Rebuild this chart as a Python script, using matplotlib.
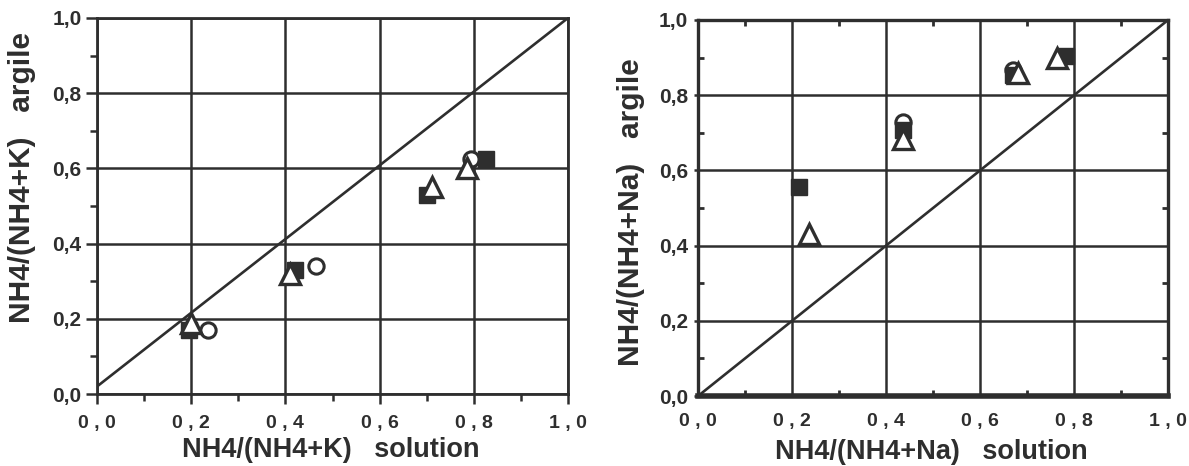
import matplotlib
matplotlib.use("Agg")
import matplotlib.pyplot as plt
from matplotlib.ticker import MultipleLocator, FixedLocator

plt.rcParams['font.family'] = ['Liberation Sans', 'DejaVu Sans']
plt.rcParams['font.weight'] = 'bold'

INK = '#2e2e2e'

# --- data ---
# left panel : NH4/(NH4+K)
k_sq_x = [0.195, 0.42, 0.70, 0.825]
k_sq_y = [0.17, 0.33, 0.53, 0.625]
k_tri_x = [0.20, 0.41, 0.712, 0.785]
k_tri_y = [0.19, 0.32, 0.55, 0.60]
k_circ_x = [0.235, 0.465, 0.795]
k_circ_y = [0.17, 0.34, 0.625]
k_line_x = [0.0, 1.0]
k_line_y = [0.02, 1.0]

# right panel : NH4/(NH4+Na)
na_sq_x = [0.215, 0.435, 0.671, 0.783]
na_sq_y = [0.555, 0.707, 0.854, 0.905]
na_tri_x = [0.235, 0.437, 0.681, 0.764]
na_tri_y = [0.43, 0.684, 0.859, 0.90]
na_circ_x = [0.435, 0.671]
na_circ_y = [0.729, 0.867]
na_line_x = [0.0, 1.0]
na_line_y = [0.0, 1.0]

major = [0.0, 0.2, 0.4, 0.6, 0.8, 1.0]
xlabs = ['0 , 0', '0 , 2', '0 , 4', '0 , 6', '0 , 8', '1 , 0']
ylabs = ['0,0', '0,2', '0,4', '0,6', '0,8', '1,0']


def draw_points(ax, cx, cy, sx, sy, tx, ty):
    ax.plot(cx, cy, 'o', ms=11, mfc='white', mec=INK, mew=2.2, zorder=4, clip_on=False)
    ax.plot(sx, sy, 's', ms=12, mfc=INK, mec=INK, mew=1.0, zorder=5, clip_on=False)
    ax.plot(tx, ty, '^', ms=14, mfc='white', mec=INK, mew=2.4, zorder=6, clip_on=False)


def base_axes(ax, spw):
    ax.set_xlim(0, 1)
    ax.set_ylim(0, 1)
    ax.xaxis.set_major_locator(FixedLocator(major))
    ax.yaxis.set_major_locator(FixedLocator(major))
    ax.xaxis.set_minor_locator(MultipleLocator(0.1))
    ax.yaxis.set_minor_locator(MultipleLocator(0.1))
    ax.set_xticklabels(xlabs)
    ax.set_yticklabels(ylabs)
    ax.grid(True, which='major', color=INK, lw=1.8)
    ax.set_axisbelow(True)
    for s in ax.spines.values():
        s.set_linewidth(spw)
        s.set_color(INK)
    for lab in ax.get_xticklabels():
        lab.set_fontsize(14)
        lab.set_color(INK)
    for lab in ax.get_yticklabels():
        lab.set_fontsize(15)
        lab.set_color(INK)


fig = plt.figure(figsize=(11.89, 4.66), dpi=100)

# left panel
ax1 = fig.add_axes([0.0816, 0.1545, 0.3961, 0.8069])
base_axes(ax1, 2.0)
ax1.tick_params(axis='x', which='major', direction='out', length=7, width=1.8, color=INK, pad=8)
ax1.tick_params(axis='x', which='minor', direction='out', length=5, width=1.8, color=INK)
ax1.tick_params(axis='y', which='major', direction='out', length=8, width=1.8, color=INK, pad=3)
ax1.tick_params(axis='y', which='minor', direction='out', length=5, width=1.8, color=INK)
ax1.plot(k_line_x, k_line_y, color=INK, lw=1.9, zorder=3)
draw_points(ax1, k_circ_x, k_circ_y, k_sq_x, k_sq_y, k_tri_x, k_tri_y)
ax1.set_xlabel('NH4/(NH4+K)   solution', fontsize=19.5, color=INK, fontweight='bold')
ax1.set_ylabel('NH4/(NH4+K)   argile', fontsize=21.5, color=INK, fontweight='bold')
ax1.xaxis.set_label_coords(0.497, -0.115)
ax1.yaxis.set_label_coords(-0.13, 0.577)

# right panel
ax2 = fig.add_axes([0.5871, 0.1502, 0.3953, 0.8069])
base_axes(ax2, 2.4)
ax2.spines['bottom'].set_linewidth(4)
ax2.tick_params(which='major', direction='out', length=3, width=1.8, color=INK)
ax2.tick_params(axis='x', which='major', length=0, pad=12)
ax2.tick_params(axis='y', which='major', pad=4)
ax2.tick_params(which='minor', direction='in', length=4, width=2.0, color=INK,
                top=True, right=True)
ax2.plot(na_line_x, na_line_y, color=INK, lw=1.9, zorder=3)
draw_points(ax2, na_circ_x, na_circ_y, na_sq_x, na_sq_y, na_tri_x, na_tri_y)
ax2.set_xlabel('NH4/(NH4+Na)   solution', fontsize=19.5, color=INK, fontweight='bold')
ax2.set_ylabel('NH4/(NH4+Na)   argile', fontsize=21.5, color=INK, fontweight='bold')
ax2.xaxis.set_label_coords(0.496, -0.115)
ax2.yaxis.set_label_coords(-0.112, 0.49)

fig.savefig('out.png', dpi=100, facecolor='white')
